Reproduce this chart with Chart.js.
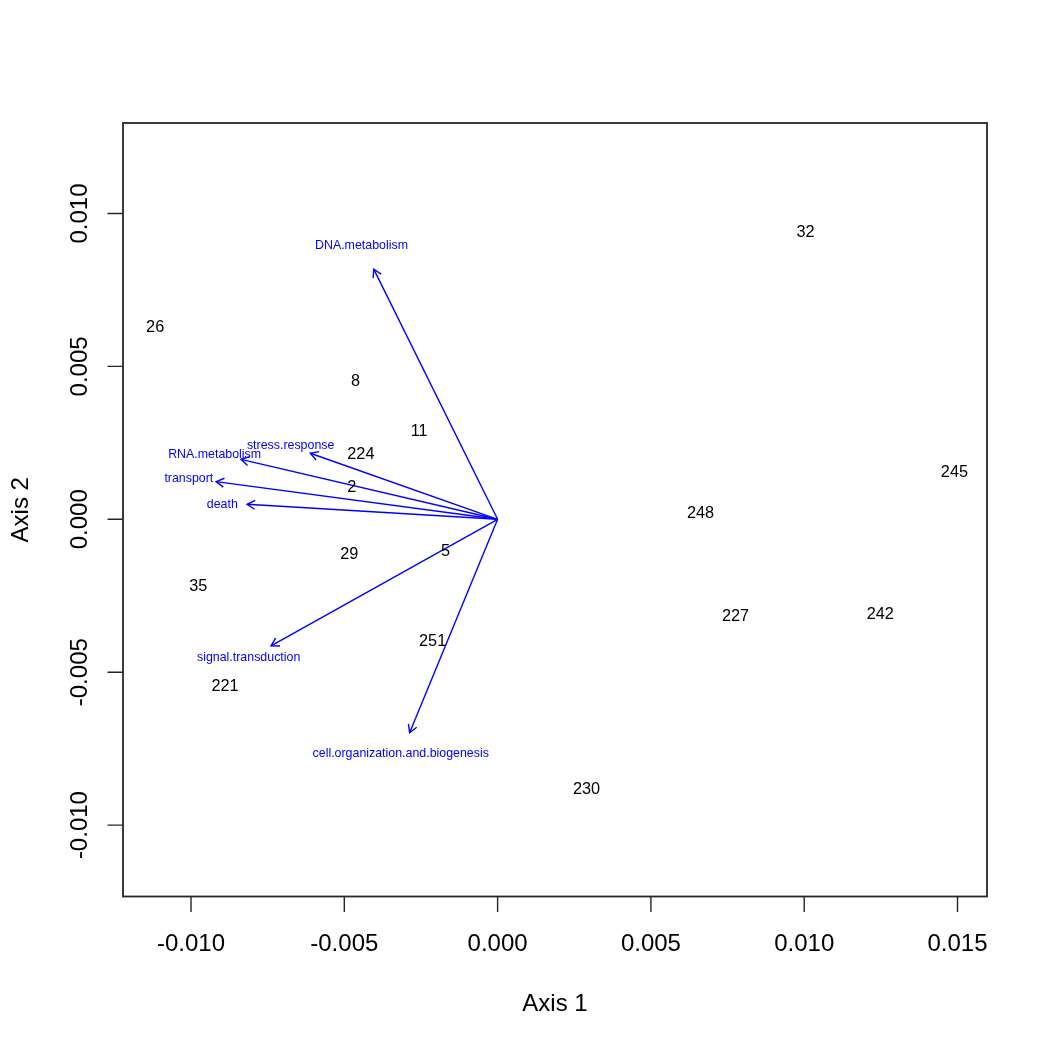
<!DOCTYPE html>
<html>
<head>
<meta charset="utf-8">
<script src="https://cdn.jsdelivr.net/npm/chart.js@4/dist/chart.umd.min.js"></script>
<style>
html,body{margin:0;padding:0;background:#fff;}
#wrap{width:1050px;height:1050px;}
</style>
</head>
<body>
<div id="wrap"><canvas id="c" width="1050" height="1050"></canvas></div>
<script>
// Sample scores (black numeric labels)
const sampleLabels = ['32','26','8','11','224','245','2','248','5','29','35','227','242','251','221','230'];
const sampleX = [0.01004, -0.01117, -0.00463, -0.00256, -0.00446, 0.01490, -0.00476, 0.00662, -0.00170, -0.00484, -0.00976, 0.00776, 0.01248, -0.00212, -0.00889, 0.00290];
const sampleY = [0.00941, 0.00632, 0.00456, 0.00290, 0.00215, 0.00156, 0.00108, 0.00023, -0.00100, -0.00111, -0.00215, -0.00313, -0.00306, -0.00395, -0.00542, -0.00879];

// Variable loadings (blue arrows)
const varLabels = ['DNA.metabolism','stress.response','RNA.metabolism','transport','death','signal.transduction','cell.organization.and.biogenesis'];
const arrowX = [-0.00404, -0.00611, -0.00837, -0.00918, -0.00817, -0.00739, -0.00287];
const arrowY = [0.00818, 0.00216, 0.00196, 0.00123, 0.00049, -0.00414, -0.00698];
const varLabelX = [-0.00444, -0.00675, -0.00923, -0.01007, -0.00898, -0.00812, -0.00316];
const varLabelY = [0.00898, 0.00245, 0.00216, 0.00138, 0.00050, -0.00448, -0.00763];

// Axes
const xTicks = [-0.010, -0.005, 0.000, 0.005, 0.010, 0.015];
const xTickLabels = ['-0.010','-0.005','0.000','0.005','0.010','0.015'];
const yTicks = [-0.010, -0.005, 0.000, 0.005, 0.010];
const yTickLabels = ['-0.010','-0.005','0.000','0.005','0.010'];
const xTitle = 'Axis 1';
const yTitle = 'Axis 2';

const FONT = '"Liberation Sans", Arial, Helvetica, sans-serif';
const BLUE = '#0000ff';

const datasets = [];
datasets.push({
  id: 'samples',
  label: 'samples',
  data: sampleX.map((x, i) => ({x: x, y: sampleY[i]})),
  pointRadius: 0,
  showLine: false
});
datasets.push({
  label: 'varLabels',
  data: varLabelX.map((x, i) => ({x: x, y: varLabelY[i]})),
  pointRadius: 0,
  showLine: false
});
for (let i = 0; i < varLabels.length; i++) {
  datasets.push({
    label: 'arrow ' + varLabels[i],
    data: [{x: 0, y: 0}, {x: arrowX[i], y: arrowY[i]}],
    showLine: true,
    borderColor: BLUE,
    borderWidth: 1.4,
    pointRadius: 0,
    fill: false,
    tension: 0,
    isArrow: true
  });
}

const biplotPlugin = {
  id: 'biplot',
  afterDatasetsDraw(chart) {
    const ctx = chart.ctx;
    const ca = chart.chartArea;
    const xs = chart.scales.x, ys = chart.scales.y;
    ctx.save();
    // arrowheads
    chart.data.datasets.forEach((ds, di) => {
      if (!ds.isArrow) return;
      const meta = chart.getDatasetMeta(di);
      const p0 = meta.data[0], p1 = meta.data[1];
      const ang = Math.atan2(p1.y - p0.y, p1.x - p0.x);
      const L = 9, a = Math.PI / 6;
      ctx.strokeStyle = BLUE;
      ctx.lineWidth = 1.4;
      ctx.beginPath();
      ctx.moveTo(p1.x - L * Math.cos(ang - a), p1.y - L * Math.sin(ang - a));
      ctx.lineTo(p1.x, p1.y);
      ctx.lineTo(p1.x - L * Math.cos(ang + a), p1.y - L * Math.sin(ang + a));
      ctx.stroke();
    });
    // sample labels
    ctx.textAlign = 'center';
    ctx.textBaseline = 'alphabetic';
    ctx.fillStyle = '#000';
    ctx.font = '16.3px ' + FONT;
    const m0 = chart.getDatasetMeta(0);
    m0.data.forEach((pt, i) => {
      ctx.fillText(sampleLabels[i], pt.x, pt.y + 0.358 * 16.3);
    });
    // variable labels
    ctx.fillStyle = BLUE;
    ctx.font = '12.4px ' + FONT;
    const m1 = chart.getDatasetMeta(1);
    m1.data.forEach((pt, i) => {
      ctx.fillText(varLabels[i], pt.x, pt.y + 0.358 * 12.4);
    });
    ctx.restore();
  },
  afterDraw(chart) {
    const ctx = chart.ctx;
    const ca = chart.chartArea;
    const xs = chart.scales.x, ys = chart.scales.y;
    ctx.save();
    // box
    ctx.strokeStyle = '#262626';
    ctx.lineWidth = 1.8;
    ctx.strokeRect(ca.left, ca.top, ca.right - ca.left, ca.bottom - ca.top);
    // ticks
    ctx.lineWidth = 1.4;
    ctx.beginPath();
    xTicks.forEach(v => {
      const px = xs.getPixelForValue(v);
      ctx.moveTo(px, ca.bottom);
      ctx.lineTo(px, ca.bottom + 15.5);
    });
    yTicks.forEach(v => {
      const py = ys.getPixelForValue(v);
      ctx.moveTo(ca.left, py);
      ctx.lineTo(ca.left - 15.5, py);
    });
    ctx.stroke();
    // tick labels
    ctx.fillStyle = '#000';
    ctx.font = '24px ' + FONT;
    ctx.textAlign = 'center';
    ctx.textBaseline = 'alphabetic';
    xTicks.forEach((v, i) => {
      const px = xs.getPixelForValue(v);
      ctx.fillText(xTickLabels[i], px, ca.bottom + 54.2);
    });
    yTicks.forEach((v, i) => {
      const py = ys.getPixelForValue(v);
      ctx.save();
      ctx.translate(ca.left - 36.2, py);
      ctx.rotate(-Math.PI / 2);
      ctx.fillText(yTickLabels[i], 0, 0);
      ctx.restore();
    });
    // axis titles
    const cx = (ca.left + ca.right) / 2;
    const cy = (ca.top + ca.bottom) / 2;
    ctx.fillText(xTitle, cx, ca.bottom + 114);
    ctx.save();
    ctx.translate(ca.left - 95.5, cy);
    ctx.rotate(-Math.PI / 2);
    ctx.fillText(yTitle, 0, 0);
    ctx.restore();
    ctx.restore();
  }
};

new Chart(document.getElementById('c'), {
  type: 'scatter',
  data: { datasets: datasets },
  options: {
    responsive: false,
    animation: false,
    devicePixelRatio: 1,
    layout: { padding: { left: 123, top: 123, right: 63, bottom: 153.5 } },
    plugins: { legend: { display: false }, tooltip: { enabled: false }, title: { display: false } },
    events: [],
    scales: {
      x: { type: 'linear', display: false, min: -0.012218, max: 0.015962 },
      y: { type: 'linear', display: false, min: -0.012335, max: 0.012959 }
    }
  },
  plugins: [biplotPlugin]
});
</script>
</body>
</html>
